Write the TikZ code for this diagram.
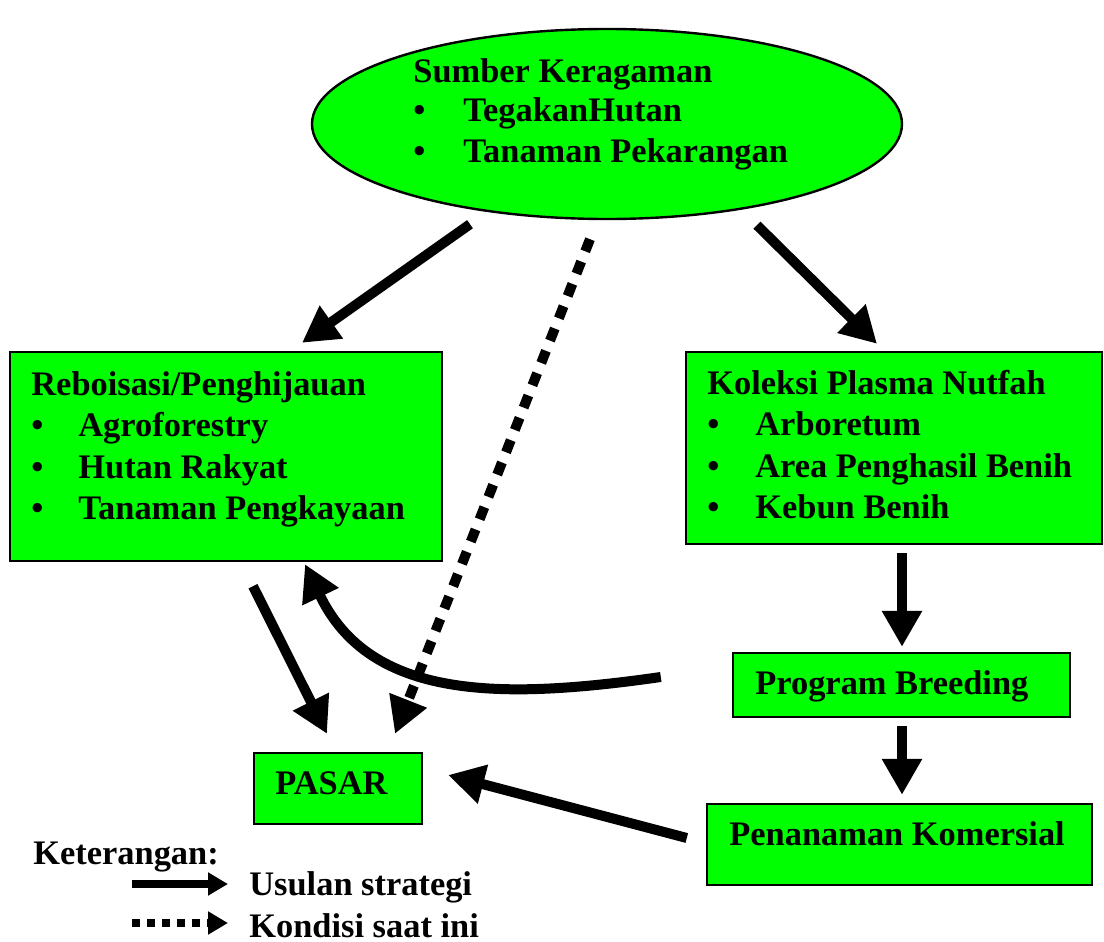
\documentclass[tikz,border=0pt]{standalone}
\usepackage{fontspec}
\setmainfont{Liberation Serif}
\usetikzlibrary{shapes.geometric,arrows.meta,calc}

\definecolor{boxgreen}{RGB}{0,255,0}
\newcommand{\itm}[2][24pt]{\makebox[#1][l]{\textbullet}#2}

\begin{document}
\begin{tikzpicture}[
        x=0.5pt, y=-0.5pt,
        every node/.style={inner sep=0pt, font=\fontsize{17.2}{20.8}\selectfont\bfseries},
        box/.style={draw, line width=1.2pt, fill=boxgreen, rectangle},
        txt/.style={anchor=base west},
        flow/.style={line width=5pt, -{Triangle[length=18pt,width=19pt]}},
        now/.style={flow, dash pattern=on 6.5pt off 5.5pt},
        keyline/.style={line width=3.8pt, -{Triangle[length=10pt,width=11pt]}},
        keydots/.style={keyline, dash pattern=on 4pt off 3.5pt},
    ]
    \useasboundingbox (0,0) rectangle (1104,942);

    % --- Source of diversity (top ellipse) --------------------------------
    \node[box, ellipse, minimum width=295pt, minimum height=95pt]
        (sumber) at (607,124) {};
    \node[txt, font=\fontsize{17.2}{20}\selectfont\bfseries] (sumbertxt) at (413,82)
        {\begin{tabular}[t]{@{}l@{}}
         Sumber Keragaman\\
         \itm[25pt]{TegakanHutan}\\
         \itm[25pt]{Tanaman Pekarangan}
         \end{tabular}};

    % --- Two main boxes ---------------------------------------------------
    \node[box, minimum width=216pt, minimum height=104.5pt]
        (reboisasi) at (226,456.5) {};
    \node[txt] (reboisasitxt) at (31,395)
        {\begin{tabular}[t]{@{}l@{}}
         Reboisasi/Penghijauan\\
         \itm[23.5pt]{Agroforestry}\\
         \itm[23.5pt]{Hutan Rakyat}\\
         \itm[23.5pt]{Tanaman Pengkayaan}
         \end{tabular}};

    \node[box, minimum width=208pt, minimum height=96pt]
        (koleksi) at (894,448) {};
    \node[txt] (koleksitxt) at (707,394)
        {\begin{tabular}[t]{@{}l@{}}
         Koleksi Plasma Nutfah\\
         \itm{Arboretum}\\
         \itm{Area Penghasil Benih}\\
         \itm{Kebun Benih}
         \end{tabular}};

    % --- Chain on the right and the market ---------------------------------
    \node[box, minimum width=168.5pt, minimum height=32pt]
        (breeding) at (901.5,685) {};
    \node[txt] (breedingtxt) at (755,694) {Program Breeding};

    \node[box, minimum width=192.5pt, minimum height=40.5pt]
        (komersial) at (899.5,844.5) {};
    \node[txt] (komersialtxt) at (729,845) {Penanaman Komersial};

    \node[box, minimum width=84pt, minimum height=35.5pt]
        (pasar) at (338,788.5) {};
    \node[txt] (pasartxt) at (275,794) {PASAR};

    % --- Connectors ---------------------------------------------------------
    \draw[flow] ($(sumber.south)+(-137,4)$) -- ($(reboisasi.north)+(76,-8)$);
    \draw[flow] ($(sumber.south)+(150,5)$) -- ($(koleksi.north)+(-17,-7)$);
    \draw[now]  ($(sumber.south)+(-17,19)$) -- ($(pasar.north)+(57,-18)$);
    \draw[flow] ($(reboisasi.south)+(27,24)$) -- ($(pasar.north)+(-11,-18)$);
    \draw[flow] ($(koleksi.south)+(8,8)$) -- ($(breeding.north)+(0.5,-5)$);
    \draw[flow] ($(breeding.south)+(0.5,8)$) -- ($(komersial.north)+(2.5,-8)$);
    \draw[flow] ($(komersial.west)+(-19,-6.5)$) -- ($(pasar.east)+(25,-13.5)$);
    \draw[flow] ($(breeding.west)+(-71,-8)$)
        .. controls (500,700) and (370,700) .. ($(reboisasi.south)+(79,2)$);

    % --- Legend ---------------------------------------------------------------
    \node[txt] (keterangan) at (33,864) {Keterangan:};
    \coordinate (k1a) at (132,884);
    \coordinate (k1b) at (228,884);
    \coordinate (k2a) at (132,923);
    \coordinate (k2b) at (228,923);
    \draw[keyline] (k1a) -- (k1b);
    \draw[keydots] (k2a) -- (k2b);
    \node[txt] (usulan) at (249,895) {Usulan strategi};
    \node[txt] (kondisi) at (249,937) {Kondisi saat ini};

\end{tikzpicture}
\end{document}
